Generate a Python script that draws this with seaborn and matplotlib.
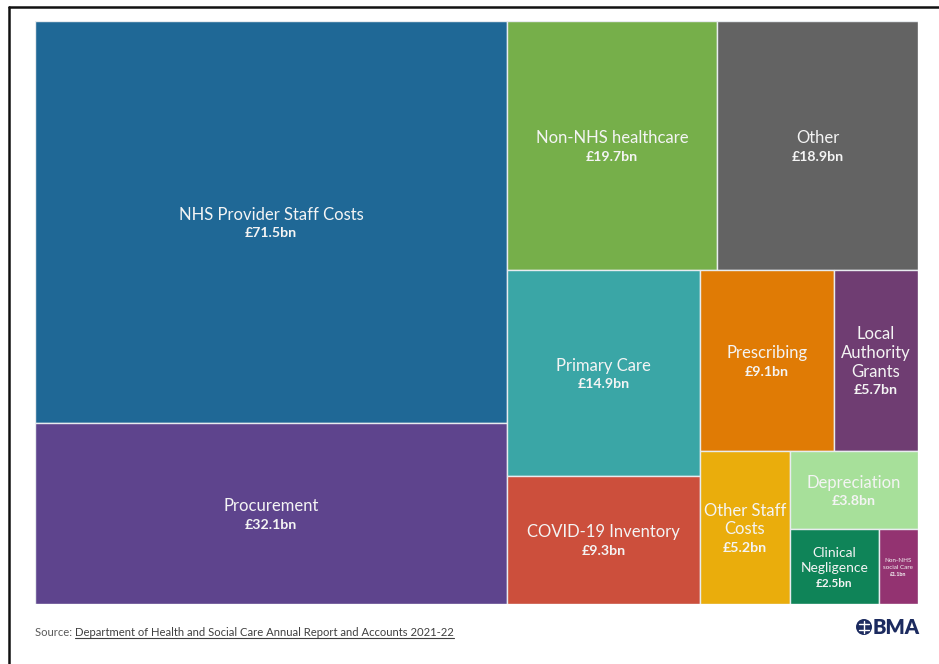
import numpy as np
import seaborn as sns
import matplotlib.pyplot as plt
from matplotlib.patches import Rectangle, Ellipse
from matplotlib.lines import Line2D

# spending categories (DHSC 2021-22), values in £bn
categories = ["NHS Provider Staff Costs", "Procurement", "Non-NHS healthcare", "Other",
              "Primary Care", "COVID-19 Inventory", "Prescribing", "Local\nAuthority\nGrants",
              "Other Staff\nCosts", "Depreciation", "Clinical\nNegligence", "Non-NHS\nsocial Care"]
values = [71.5, 32.1, 19.7, 18.9, 14.9, 9.3, 9.1, 5.7, 5.2, 3.8, 2.5, 1.1]
value_labels = ["£71.5bn", "£32.1bn", "£19.7bn", "£18.9bn", "£14.9bn", "£9.3bn",
                "£9.1bn", "£5.7bn", "£5.2bn", "£3.8bn", "£2.5bn", "£1.1bn"]

colors = ["#1f6896", "#5e448d", "#76af4a", "#636363", "#3aa6a6", "#cc4f3c",
          "#e07b05", "#6f3d72", "#eaad0c", "#a7e09a", "#0f8458", "#933371"]
font_sizes = [12, 12, 12, 12, 12, 12, 12, 12, 12, 12, 10, 4.5]

W, H = 883, 583  # plotting area in px


def binary_layout(vals, x0, y0, x1, y1):
    # same splitting as d3.treemapBinary
    sums = np.concatenate([[0.0], np.cumsum(vals)])
    rects = [None] * len(vals)

    def part(i, j, value, x0, y0, x1, y1):
        if i >= j - 1:
            rects[i] = (x0, y0, x1, y1)
            return
        offset = sums[i]
        target = value / 2 + offset
        k, hi = i + 1, j - 1
        while k < hi:
            mid = (k + hi) // 2
            if sums[mid] < target:
                k = mid + 1
            else:
                hi = mid
        if target - sums[k - 1] < sums[k] - target and i + 1 < k:
            k -= 1
        left = sums[k] - offset
        right = value - left
        if x1 - x0 > y1 - y0:
            xk = (x0 * right + x1 * left) / value
            part(i, k, left, x0, y0, xk, y1)
            part(k, j, right, xk, y0, x1, y1)
        else:
            yk = (y0 * right + y1 * left) / value
            part(i, k, left, x0, y0, x1, yk)
            part(k, j, right, x0, yk, x1, y1)

    part(0, len(vals), sums[-1], x0, y0, x1, y1)
    return rects


sns.set_style("white")
plt.rcParams["font.family"] = ["Lato", "DejaVu Sans"]

fig = plt.figure(figsize=(9.39, 6.64), dpi=100)
ax = fig.add_axes([35 / 939, 1 - 604 / 664, W / 939, H / 664])
ax.set_xlim(0, W)
ax.set_ylim(H, 0)
ax.axis("off")

rects = binary_layout(values, 0, 0, W, H)
for (x0, y0, x1, y1), name, val, col, fs in zip(rects, categories, value_labels, colors, font_sizes):
    ax.add_patch(Rectangle((x0, y0), x1 - x0, y1 - y0, facecolor=col,
                           edgecolor="#e8ecef", linewidth=1.0))
    lines = name.split("\n")
    step = fs * 1.55
    n = len(lines) + 1
    cx = (x0 + x1) / 2
    cy = (y0 + y1) / 2 + fs * 0.15
    top = cy - step * (n - 1) / 2
    for i, ln in enumerate(lines):
        ax.text(cx, top + i * step, ln, ha="center", va="center", color="#f4f4f4",
                fontsize=fs)
    ax.text(cx, top + len(lines) * step, val, ha="center", va="center", color="#f4f4f4",
            fontsize=fs * 0.85, fontweight="bold")

# outer frame (top and left only, as in the page crop)
fig.add_artist(Line2D([9 / 939, 1], [1 - 7 / 664, 1 - 7 / 664], color="#111111", lw=1.8))
fig.add_artist(Line2D([9 / 939, 9 / 939], [0, 1 - 7 / 664], color="#111111", lw=1.8))

# source line with underlined link
src = fig.text(35 / 939, 1 - 632 / 664, "Source: ", fontsize=8.1, color="#595959", va="center")
fig.canvas.draw()
bb = src.get_window_extent()
link = fig.text(bb.x1 / 939, 1 - 632 / 664, "Department of Health and Social Care Annual Report and Accounts 2021-22",
                fontsize=8.1, color="#404040", va="center")
fig.canvas.draw()
lb = link.get_window_extent()
fig.add_artist(Line2D([lb.x0 / 939, lb.x1 / 939], [(lb.y0 - 0.5) / 664] * 2, color="#404040", lw=0.8))

# BMA logo
navy = "#1c2b5f"
fig.add_artist(Ellipse((864 / 939, 1 - 627 / 664), 16 / 939, 16 / 664, transform=fig.transFigure,
                       facecolor=navy, edgecolor="none"))
fig.add_artist(Line2D([859 / 939, 869 / 939], [1 - 624 / 664] * 2, color="white", lw=1.0))
fig.add_artist(Line2D([859 / 939, 869 / 939], [1 - 630 / 664] * 2, color="white", lw=1.0))
fig.add_artist(Line2D([864 / 939, 864 / 939], [1 - 621 / 664, 1 - 633 / 664], color="white", lw=1.0))
fig.text(873 / 939, 1 - 627 / 664, "BMA", fontsize=14.5, fontweight="heavy", color=navy, va="center")

plt.savefig("out.png", dpi=100)
